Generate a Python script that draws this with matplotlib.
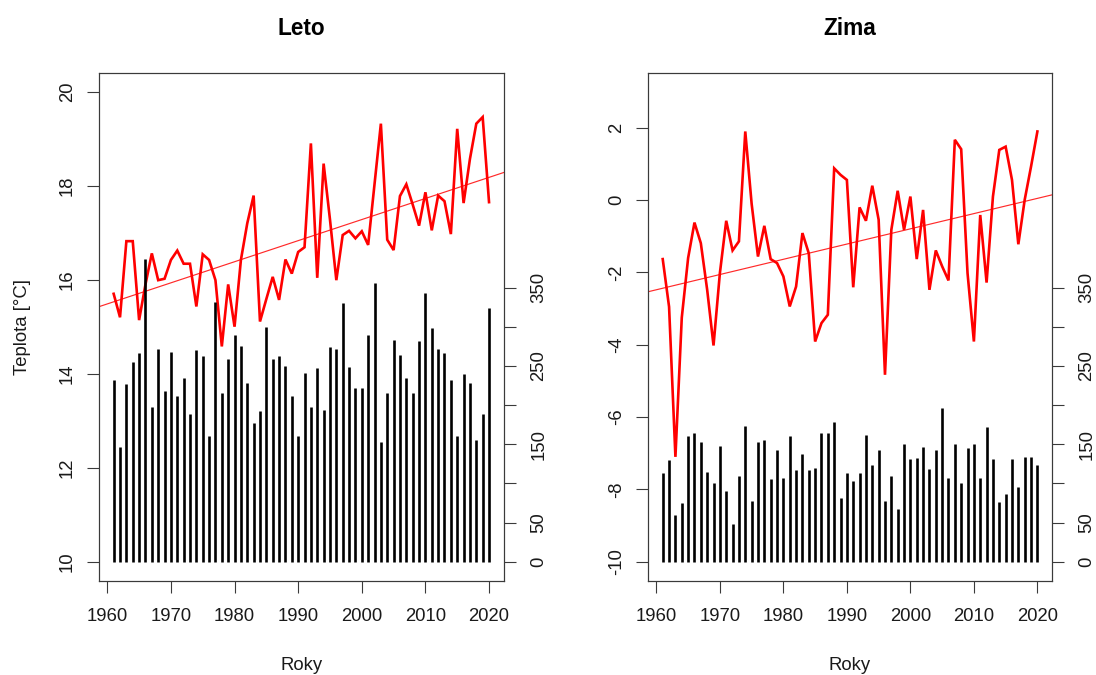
import numpy as np
import matplotlib
matplotlib.use("Agg")
import matplotlib.pyplot as plt

plt.rcParams['font.family'] = ['Liberation Sans', 'DejaVu Sans']

years = list(range(1961, 2021))

# Summer (Leto) mean temperature [°C]
leto_temp = [15.70, 15.20, 16.82, 16.82, 15.14, 15.90, 16.56, 15.99, 16.02, 16.42,
             16.62, 16.34, 16.34, 15.43, 16.54, 16.42, 15.99, 14.58, 15.90, 15.00,
             16.42, 17.20, 17.79, 15.11, 15.59, 16.06, 15.57, 16.43, 16.13, 16.59,
             16.69, 18.90, 16.04, 18.47, 17.28, 15.99, 16.95, 17.04, 16.88, 17.03,
             16.74, 18.03, 19.32, 16.85, 16.63, 17.78, 18.03, 17.60, 17.15, 17.86,
             17.05, 17.79, 17.67, 16.97, 19.21, 17.63, 18.57, 19.32, 19.46, 17.65]

# Summer precipitation totals [mm]
leto_prec = [232, 147, 227, 255, 266, 387, 197, 272, 218, 268,
             211, 234, 189, 270, 262, 161, 331, 216, 259, 289,
             276, 228, 177, 193, 299, 259, 263, 250, 211, 160,
             241, 197, 247, 194, 274, 272, 330, 249, 222, 222,
             289, 356, 153, 215, 283, 264, 234, 216, 282, 343,
             298, 272, 266, 232, 161, 239, 228, 156, 189, 324]

# Winter (Zima) mean temperature [°C]
zima_temp = [-1.63, -2.95, -7.10, -3.25, -1.60, -0.62, -1.19, -2.48, -4.02, -2.02,
             -0.57, -1.39, -1.14, 1.90, -0.10, -1.56, -0.71, -1.63, -1.74, -2.11,
             -2.94, -2.39, -0.91, -1.47, -3.91, -3.40, -3.17, 0.88, 0.70, 0.56,
             -2.41, -0.20, -0.57, 0.40, -0.54, -4.83, -0.82, 0.26, -0.82, 0.10,
             -1.63, -0.27, -2.48, -1.39, -1.83, -2.22, 1.67, 1.41, -2.02, -3.91,
             -0.41, -2.28, 0.10, 1.39, 1.48, 0.56, -1.22, 0.01, 0.93, 1.90]

# Winter precipitation totals [mm]
zima_prec = [113, 130, 59, 75, 160, 164, 153, 114, 101, 148,
             90, 48, 109, 173, 77, 153, 156, 106, 143, 107,
             160, 117, 137, 117, 120, 164, 164, 178, 81, 113,
             103, 113, 162, 124, 142, 77, 110, 67, 150, 131,
             132, 146, 118, 142, 196, 107, 150, 101, 145, 150,
             107, 172, 131, 76, 86, 131, 95, 134, 134, 124]

x_ticks = [1960, 1970, 1980, 1990, 2000, 2010, 2020]
prec_ticks = [0, 50, 100, 150, 200, 250, 300, 350]
prec_labels = ['0', '50', '', '150', '', '250', '', '350']

TXT = '#1a1a1a'
EDGE = '#3a3a3a'
FS = 13.3

fig = plt.figure(figsize=(10.96, 6.75), dpi=100)

panels = [
    dict(title='Leto', temp=leto_temp, prec=leto_prec, ylim=(9.6, 20.4),
         yticks=[10, 12, 14, 16, 18, 20], ylabel='Teplota [°C]',
         rect=[0.0900, 0.1400, 0.3699, 0.7520]),
    dict(title='Zima', temp=zima_temp, prec=zima_prec, ylim=(-10.52, 3.52),
         yticks=[-10, -8, -6, -4, -2, 0, 2], ylabel=None,
         rect=[0.5910, 0.1400, 0.3692, 0.7520]),
]

yrs = np.array(years, dtype=float)
xlim = (1961 - 0.04 * 59, 2020 + 0.04 * 59)

for p in panels:
    ax = fig.add_axes(p['rect'])
    t = np.array(p['temp'])
    ax.plot(yrs, t, color='red', lw=1.9, solid_joinstyle='miter', zorder=3)
    k, b = np.polyfit(yrs, t, 1)
    xx = np.array(xlim)
    ax.plot(xx, k * xx + b, color='#ff2a2a', lw=0.85, zorder=2)
    ax.set_xlim(xlim)
    ax.set_ylim(p['ylim'])
    ax.set_xticks(x_ticks)
    ax.set_yticks(p['yticks'])
    ax.set_yticklabels([str(v) for v in p['yticks']])
    ax.tick_params(axis='both', direction='out', length=8.3, width=0.8,
                   color=EDGE, labelsize=FS, labelcolor=TXT)
    ax.tick_params(axis='x', pad=11.5)
    ax.tick_params(axis='y', pad=8, labelrotation=90)
    for lab in ax.get_yticklabels():
        lab.set_va('center')
    for s in ax.spines.values():
        s.set_color(EDGE)
        s.set_linewidth(0.8)
    ax.set_title(p['title'], fontsize=16.3, fontweight='bold', color='black', pad=27)
    ax.set_xlabel('Roky', fontsize=FS, color=TXT, labelpad=23)
    if p['ylabel']:
        ax.set_ylabel(p['ylabel'], fontsize=FS, color=TXT, labelpad=20)

    ax2 = ax.twinx()
    ax2.vlines(yrs, 0, p['prec'], colors='black', lw=1.9, zorder=4)
    ax2.set_ylim(-24, 624)
    ax2.set_yticks(prec_ticks)
    ax2.set_yticklabels(prec_labels)
    ax2.tick_params(axis='y', direction='out', length=8.3, width=0.8,
                    color=EDGE, labelsize=FS, labelcolor=TXT, pad=10.5,
                    labelrotation=90)
    for lab in ax2.get_yticklabels():
        lab.set_va('center')
    for s in ax2.spines.values():
        s.set_color(EDGE)
        s.set_linewidth(0.8)

fig.savefig('out.png', dpi=100, facecolor='white')
